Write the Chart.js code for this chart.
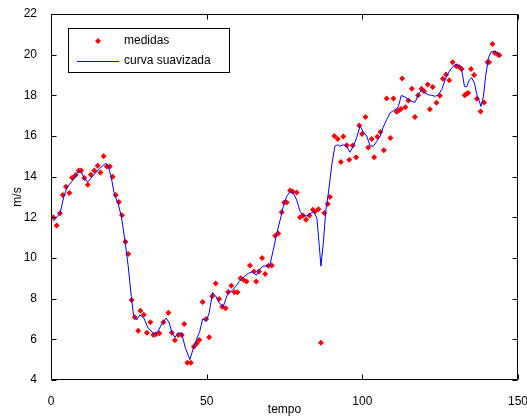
<!DOCTYPE html>
<html>
<head>
<meta charset="utf-8">
<script src="https://cdn.jsdelivr.net/npm/chart.js@4/dist/chart.umd.min.js"></script>
<style>
  html, body { margin: 0; padding: 0; background: #fff; }
  #grafico { display: block; }
</style>
</head>
<body>
<canvas id="grafico" width="527" height="419"></canvas>
<script>
// --- Dados ---
const tempoMedidas = [
  0.7, 1.8, 2.9, 3.8, 4.8, 5.9, 6.8, 7.9, 8.9, 9.7,
  10.7, 11.8, 12.8, 13.9, 15.0, 15.9, 16.9, 17.9, 18.9, 19.8,
  20.8, 21.8, 22.8, 23.9, 24.8, 25.9, 26.9, 28.0, 28.7, 29.8,
  30.8, 31.9, 32.9, 33.7, 34.8, 36.1, 37.7, 38.8, 39.8, 40.9,
  42.0, 42.8, 43.8, 44.9, 45.9, 46.8, 47.6, 48.7, 49.8, 50.8,
  51.8, 52.9, 54.0, 55.0, 56.1, 56.9, 57.9, 58.9, 59.9, 60.9,
  61.9, 62.8, 63.9, 65.2, 65.9, 66.8, 67.8, 68.8, 69.8, 70.9,
  72.0, 73.0, 74.1, 74.9, 75.7, 76.8, 77.6, 78.9, 80.0, 81.0,
  81.9, 83.0, 84.1, 84.8, 85.9, 86.7, 87.8, 88.9, 89.6, 91.0,
  92.1, 93.1, 93.9, 95.0, 95.8, 96.9, 98.0, 99.0, 99.9, 101.0,
  101.9, 103.0, 103.8, 104.8, 105.8, 106.9, 107.8, 109.0, 110.0, 111.0,
  111.7, 112.4, 112.8, 113.8, 114.8, 115.9, 116.9, 117.9, 119.0, 119.8,
  121.0, 121.7, 122.6, 123.8, 124.9, 125.9, 126.9, 127.9, 129.0, 130.2,
  131.2, 131.9, 132.9, 133.4, 134.0, 134.9, 135.9, 136.8, 138.0, 139.1,
  140.2, 140.7, 141.8, 142.6, 143.4, 144.0
];
const medidas = [
  12.0, 11.6, 12.2, 13.1, 13.5, 13.2, 13.95, 14.08, 14.3, 14.3,
  13.93, 13.6, 14.1, 14.3, 14.54, 14.2, 15.0, 14.5, 14.5, 14.0,
  13.1, 12.75, 12.1, 10.8, 10.2, 7.94, 7.08, 6.42, 7.41, 7.21,
  6.32, 6.84, 6.21, 6.25, 6.3, 6.84, 7.31, 6.32, 5.95, 6.21,
  6.21, 6.75, 4.85, 4.85, 5.64, 5.8, 5.97, 7.83, 7.0, 6.1,
  8.12, 8.74, 7.98, 7.6, 7.53, 8.33, 8.63, 8.32, 8.32, 9.0,
  8.92, 8.84, 9.63, 9.33, 8.84, 9.33, 10.0, 9.21, 9.62, 9.63,
  11.1, 11.2, 12.25, 12.73, 12.73, 13.32, 13.27, 13.22, 12.0, 12.09,
  11.88, 12.09, 12.37, 12.29, 12.4, 5.83, 12.21, 12.65, 13.0, 16.0,
  15.85, 14.72, 15.98, 15.54, 14.83, 15.53, 14.96, 16.52, 16.1, 16.94,
  15.43, 15.85, 14.96, 15.96, 16.2, 15.3, 17.84, 15.9, 17.84, 17.19,
  17.26, 17.33, 18.83, 17.42, 17.75, 18.32, 16.94, 18.0, 18.32, 18.2,
  18.53, 17.32, 18.41, 17.63, 17.98, 18.82, 19.02, 18.74, 19.63, 19.43,
  19.38, 19.3, 18.0, 18.06, 18.12, 19.3, 19.0, 17.83, 17.21, 17.65,
  19.63, 19.63, 20.52, 20.08, 20.02, 19.97
];

const tempoCurva = [
  0.7, 2.9, 4.1, 5.2, 7.2, 8.7, 9.8, 10.9, 11.9, 13.5,
  15.6, 17.5, 18.2, 19.3, 20.4, 21.5, 22.6, 23.7, 24.8, 25.8,
  26.5, 27.5, 28.5, 29.8, 31.2, 32.8, 34.0, 35.4, 37.0, 38.0,
  38.8, 39.8, 40.9, 42.0, 43.1, 44.6, 45.7, 47.0, 47.8, 48.7,
  49.9, 50.8, 51.9, 53.0, 54.0, 55.3, 56.2, 56.9, 58.2, 59.3,
  60.5, 62.1, 63.5, 64.8, 65.9, 66.9, 68.0, 69.0, 70.3, 71.4,
  72.5, 73.6, 74.6, 75.7, 76.8, 77.8, 78.9, 80.0, 81.0, 82.1,
  83.2, 84.3, 85.4, 86.2, 86.7, 87.5, 88.3, 89.1, 90.2, 91.2,
  92.1, 92.8, 93.9, 95.0, 96.0, 97.1, 98.2, 99.3, 100.3, 101.4,
  102.5, 103.5, 104.6, 105.7, 106.7, 107.8, 108.9, 110.0, 111.0, 111.6,
  112.5, 113.7, 114.8, 115.9, 116.9, 118.0, 119.1, 120.1, 121.2, 122.3,
  123.4, 124.4, 125.5, 126.6, 127.6, 128.7, 129.8, 130.8, 131.9, 132.8,
  133.5, 134.4, 135.1, 136.0, 136.8, 137.5, 138.1, 138.9, 139.6, 140.5,
  141.3, 142.4, 143.2, 144.2
];
const curvaSuavizada = [
  11.8, 12.2, 13.0, 13.5, 13.85, 14.25, 14.2, 13.85, 13.75, 14.05,
  14.4, 14.65, 14.6, 14.0, 13.1, 12.7, 12.05, 10.9, 9.6, 8.1,
  7.2, 6.95, 7.2, 7.05, 6.55, 6.3, 6.3, 6.7, 7.05, 6.8,
  6.35, 6.1, 6.3, 6.3, 5.6, 5.0, 5.55, 6.1, 6.4, 7.0,
  6.9, 7.3, 8.3, 8.1, 7.8, 7.6, 8.0, 8.3, 8.4, 8.6,
  8.85, 9.1, 9.25, 9.33, 9.15, 9.4, 9.6, 9.6, 9.65, 10.4,
  11.2, 11.87, 12.53, 13.03, 13.27, 13.2, 12.86, 12.29, 12.07, 12.07,
  12.17, 12.29, 11.96, 10.56, 9.6, 10.8, 12.37, 13.2, 14.6, 15.5,
  15.57, 15.49, 15.57, 15.49, 15.2, 15.49, 15.93, 16.5, 16.2, 16.0,
  15.53, 15.49, 15.73, 16.0, 16.43, 16.8, 17.13, 17.25, 17.33, 17.46,
  17.99, 17.92, 17.79, 17.7, 17.65, 18.03, 18.3, 18.12, 18.03, 18.0,
  17.95, 18.03, 18.28, 18.77, 19.1, 19.35, 19.51, 19.5, 19.27, 18.44,
  18.42, 18.77, 18.86, 18.61, 18.03, 17.75, 17.45, 17.95, 18.94, 19.84,
  20.12, 20.17, 20.09, 20.0
];

const ticksX = [0, 50, 100, 150];
const ticksY = [4, 6, 8, 10, 12, 14, 16, 18, 20, 22];

const nomeMedidas = 'medidas';
const nomeCurva = 'curva suavizada';

// --- Estilo ---
const fonte = { family: '"Liberation Sans", Arial, sans-serif', size: 12 };
const vermelho = '#ff0000';
const azul = '#0000ff';

// caixa + ticks para dentro (estilo MATLAB) e a legenda dentro do grafico
const caixaMatlab = {
  id: 'caixaMatlab',
  afterDraw(chart) {
    const { ctx, chartArea: a, scales: { x, y } } = chart;
    const L = Math.round(a.left) + 0.5, R = Math.round(a.right) - 0.5;
    const T = Math.round(a.top) + 0.5, B = Math.round(a.bottom) - 0.5;
    const tam = 5;
    ctx.save();
    ctx.strokeStyle = '#000';
    ctx.lineWidth = 1;
    ctx.beginPath();
    ctx.rect(L, T, R - L, B - T);
    ticksX.forEach(v => {
      const px = Math.round(x.getPixelForValue(v)) + 0.5;
      ctx.moveTo(px, B); ctx.lineTo(px, B - tam);
      ctx.moveTo(px, T); ctx.lineTo(px, T + tam);
    });
    ticksY.forEach(v => {
      const py = Math.round(y.getPixelForValue(v)) + 0.5;
      ctx.moveTo(L, py); ctx.lineTo(L + tam, py);
      ctx.moveTo(R, py); ctx.lineTo(R - tam, py);
    });
    ctx.stroke();

    // legenda
    const lx = 68.5, ly = 28.5, lw = 161, lh = 44;
    ctx.fillStyle = '#fff';
    ctx.fillRect(lx, ly, lw, lh);
    ctx.strokeRect(lx, ly, lw, lh);
    ctx.fillStyle = vermelho;
    ctx.beginPath();
    ctx.moveTo(98, 38); ctx.lineTo(101, 41); ctx.lineTo(98, 44); ctx.lineTo(95, 41);
    ctx.closePath();
    ctx.fill();
    ctx.strokeStyle = azul;
    ctx.beginPath();
    ctx.moveTo(77, 61.5); ctx.lineTo(119, 61.5);
    ctx.stroke();
    ctx.fillStyle = '#000';
    ctx.font = `${fonte.size}px ${fonte.family}`;
    ctx.textBaseline = 'middle';
    ctx.textAlign = 'left';
    ctx.fillText(nomeMedidas, 124, 41);
    ctx.fillText(nomeCurva, 124, 61);
    ctx.restore();
  }
};

const ctx = document.getElementById('grafico').getContext('2d');
new Chart(ctx, {
  type: 'scatter',
  data: {
    datasets: [
      {
        label: nomeCurva,
        data: tempoCurva.map((t, i) => ({ x: t, y: curvaSuavizada[i] })),
        showLine: true,
        borderColor: azul,
        borderWidth: 1,
        pointRadius: 0,
        tension: 0,
        order: 0
      },
      {
        label: nomeMedidas,
        data: tempoMedidas.map((t, i) => ({ x: t, y: medidas[i] })),
        showLine: false,
        pointStyle: 'rectRot',
        pointRadius: 3,
        backgroundColor: vermelho,
        borderColor: vermelho,
        borderWidth: 0,
        order: 1
      }
    ]
  },
  options: {
    responsive: false,
    animation: false,
    devicePixelRatio: 1,
    layout: { padding: { top: 14, right: 9, left: 0, bottom: 0 } },
    plugins: { legend: { display: false }, tooltip: { enabled: false } },
    scales: {
      x: {
        type: 'linear', min: 0, max: 150,
        grid: { display: false }, border: { display: false },
        afterBuildTicks: s => { s.ticks = ticksX.map(v => ({ value: v })); },
        afterFit: s => { s.height = 39; s.paddingLeft = 0; s.paddingRight = 0; },
        ticks: { color: '#000', font: fonte, padding: 6, autoSkip: false, maxRotation: 0 },
        title: { display: true, text: 'tempo', color: '#000', font: fonte, padding: { top: 0, bottom: 2 } }
      },
      y: {
        type: 'linear', min: 4, max: 22,
        grid: { display: false }, border: { display: false },
        afterBuildTicks: s => { s.ticks = ticksY.map(v => ({ value: v })); },
        afterFit: s => { s.width = 51; s.paddingTop = 0; s.paddingBottom = 0; },
        ticks: { color: '#000', font: fonte, padding: 6 },
        title: { display: true, text: 'm/s', color: '#000', font: fonte, padding: { top: 10, bottom: 0 } }
      }
    }
  },
  plugins: [caixaMatlab]
});
</script>
</body>
</html>
